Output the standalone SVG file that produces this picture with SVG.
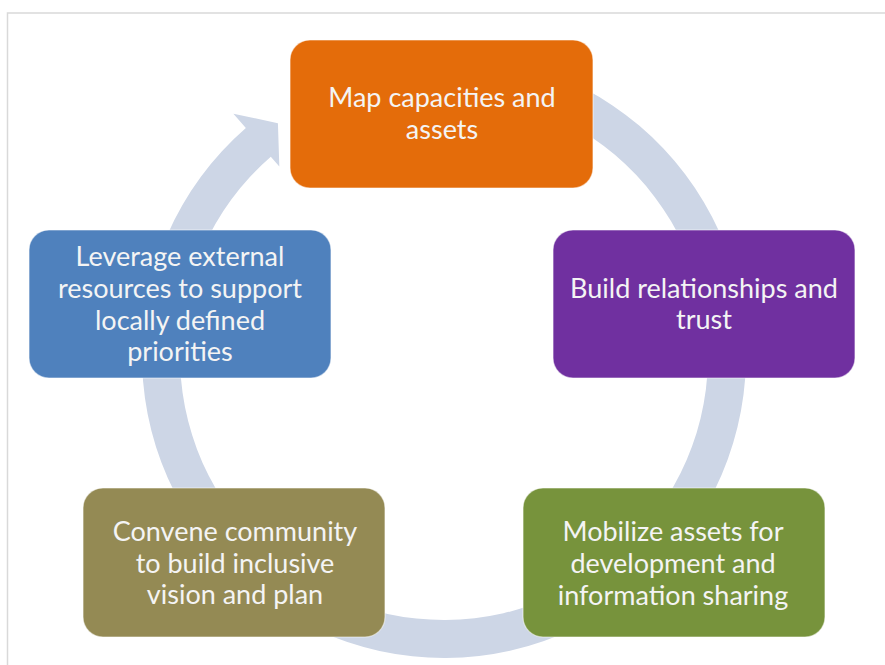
<svg xmlns="http://www.w3.org/2000/svg" width="885" height="665" viewBox="0 0 885 665">
<style>
.box{stroke:#ffffff;stroke-opacity:0.55;stroke-width:1.2}
.lbl{font-family:Lato,"Liberation Sans",sans-serif;font-size:27px;fill:#F4F4F4;text-anchor:middle}
</style>
<rect width="885" height="665" fill="#ffffff"/>
<g id="frame" fill="none" stroke="#D9D9D9" stroke-width="1.5">
<path d="M7.5 665 V13 H885"/>
</g>
<g id="connectors">
<path id="cycle-arrow" fill="#CDD6E6" d="M522.16 64.29 A302 302 0 1 1 245.87 128.08 L233.41 113.74 L277.92 123.16 L279.33 166.57 L270.8 156.76 A264 264 0 1 0 512.33 101.0 Z"/>
</g>
<g id="node-map">
<rect class="box" x="290" y="40" width="303" height="148" rx="20" fill="#E46C0A"/>
<text class="lbl" x="442" y="107">Map capacities and</text>
<text class="lbl" x="442" y="139">assets</text>
</g>
<g id="node-build">
<rect class="box" x="553" y="230" width="302" height="148" rx="20" fill="#7030A0"/>
<text class="lbl" x="704" y="298">Build relationships and</text>
<text class="lbl" x="704" y="329">trust</text>
</g>
<g id="node-mobilize">
<rect class="box" x="523" y="488" width="302" height="149" rx="20" fill="#77933C"/>
<text class="lbl" x="673" y="541">Mobilize assets for</text>
<text class="lbl" x="673" y="573">development and</text>
<text class="lbl" x="673" y="605">information sharing</text>
</g>
<g id="node-convene">
<rect class="box" x="83" y="488" width="302" height="149" rx="20" fill="#948A54"/>
<text class="lbl" x="235" y="541">Convene community</text>
<text class="lbl" x="235" y="573">to build inclusive</text>
<text class="lbl" x="235" y="604">vision and plan</text>
</g>
<g id="node-leverage">
<rect class="box" x="29" y="230" width="302" height="148" rx="20" fill="#4F81BD"/>
<text class="lbl" x="180" y="266">Leverage external</text>
<text class="lbl" x="180" y="298">resources to support</text>
<text class="lbl" x="180" y="330">locally defined</text>
<text class="lbl" x="180" y="361">priorities</text>
</g>
</svg>
